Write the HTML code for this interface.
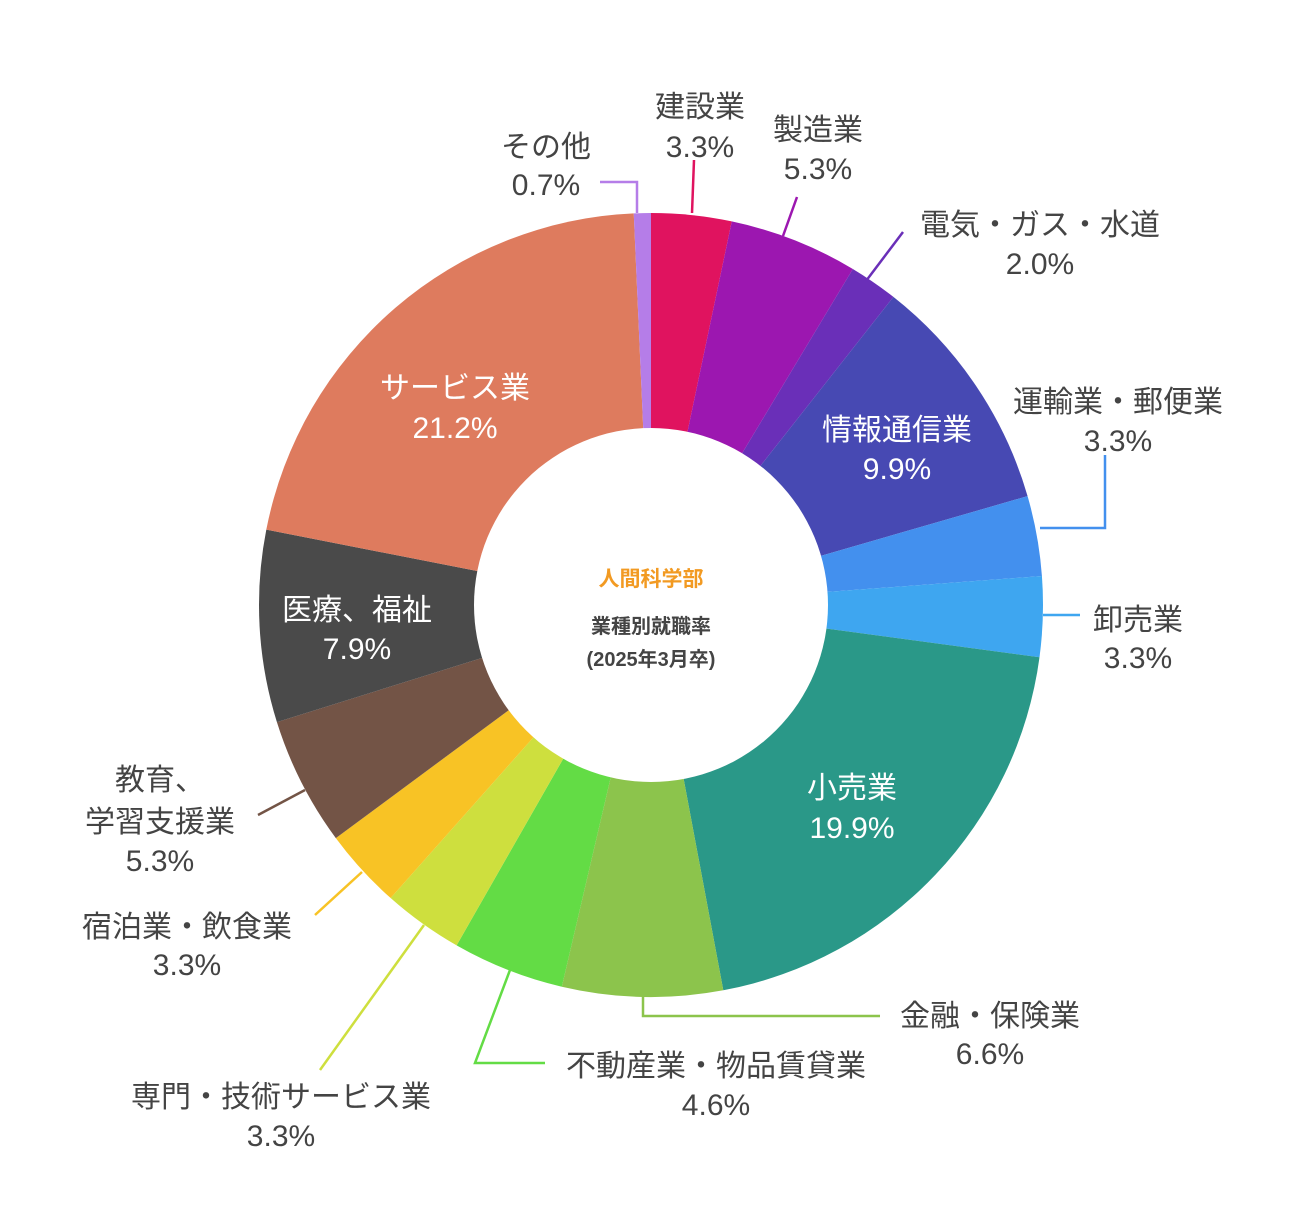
<!DOCTYPE html>
<html><head><meta charset="utf-8">
<style>
html,body{margin:0;padding:0;background:#fff;}
svg text{font-family:"Liberation Sans","Noto Sans CJK JP",sans-serif;}
</style></head>
<body>
<svg id="c" width="1300" height="1200" viewBox="0 0 1300 1200" xmlns="http://www.w3.org/2000/svg">
<g id="segs"></g>
<circle cx="651" cy="605" r="177" fill="#fff"/>
<g fill="none" stroke-width="2.5">
<polyline points="637,213 637,182 600,182" stroke="#b57de8"/>
<polyline points="692,213 694,160" stroke="#e0135f"/>
<polyline points="783,236 797,197" stroke="#9c17b0"/>
<polyline points="866,281 903,232" stroke="#6a2fb8"/>
<polyline points="1040,528 1105,528 1105,455" stroke="#4390ee"/>
<polyline points="1043,615 1080,615" stroke="#3ea6f0"/>
<polyline points="643,997 643,1016 880,1016" stroke="#8cc44c"/>
<polyline points="510,970 475,1063 545,1063" stroke="#63dc45"/>
<polyline points="424,925 320,1070" stroke="#cedf3e"/>
<polyline points="362,872 315,915" stroke="#f8c325"/>
<polyline points="305,790 258,815" stroke="#735446"/>
</g>
<g font-size="30" fill="#444" text-anchor="middle">
<text x="546" y="157">その他</text><text x="546" y="195">0.7%</text>
<text x="700" y="117">建設業</text><text x="700" y="157">3.3%</text>
<text x="818" y="140">製造業</text><text x="818" y="179">5.3%</text>
<text x="1040" y="235">電気・ガス・水道</text><text x="1040" y="274">2.0%</text>
<text x="1118" y="412">運輸業・郵便業</text><text x="1118" y="451">3.3%</text>
<text x="1138" y="630">卸売業</text><text x="1138" y="668">3.3%</text>
<text x="990" y="1026">金融・保険業</text><text x="990" y="1064">6.6%</text>
<text x="716" y="1076">不動産業・物品賃貸業</text><text x="716" y="1115">4.6%</text>
<text x="281" y="1107">専門・技術サービス業</text><text x="281" y="1146">3.3%</text>
<text x="187" y="937">宿泊業・飲食業</text><text x="187" y="975">3.3%</text>
<text x="160" y="790">教育、</text><text x="160" y="832">学習支援業</text><text x="160" y="871">5.3%</text>
</g>
<g font-size="30" fill="#fff" text-anchor="middle">
<text x="455" y="398">サービス業</text><text x="455" y="438">21.2%</text>
<text x="357" y="620">医療、福祉</text><text x="357" y="659">7.9%</text>
<text x="897" y="440">情報通信業</text><text x="897" y="479">9.9%</text>
<text x="852" y="798">小売業</text><text x="852" y="838">19.9%</text>
</g>
<g text-anchor="middle" font-weight="bold">
<text x="651" y="586" font-size="21" fill="#f29a22">人間科学部</text>
<text x="651" y="633" font-size="20" fill="#444">業種別就職率</text>
<text x="651" y="666" font-size="20" fill="#444">(2025年3月卒)</text>
</g>
</svg>
<script>
(function(){
var d=[[3.3,"#e0135f"],[5.3,"#9c17b0"],[2.0,"#6a2fb8"],[9.9,"#4749b3"],[3.3,"#4390ee"],[3.3,"#3ea6f0"],[19.9,"#2a9888"],[6.6,"#8cc44c"],[4.6,"#63dc45"],[3.3,"#cedf3e"],[3.3,"#f8c325"],[5.3,"#735446"],[7.9,"#4a4a4a"],[21.2,"#de7b5e"],[0.7,"#b57de8"]];
var tot=0;d.forEach(function(x){tot+=x[0];});
var cx=651,cy=605,R=392,a=-Math.PI/2,g=document.getElementById("segs"),s="";
d.forEach(function(x){
var b=a+x[0]/tot*2*Math.PI,l=(b-a)>Math.PI?1:0;
s+='<path d="M'+cx+','+cy+' L'+(cx+R*Math.cos(a))+','+(cy+R*Math.sin(a))+' A'+R+','+R+' 0 '+l+' 1 '+(cx+R*Math.cos(b))+','+(cy+R*Math.sin(b))+' Z" fill="'+x[1]+'"/>';
a=b;});
g.innerHTML=s;
})();
</script>
</body></html>
